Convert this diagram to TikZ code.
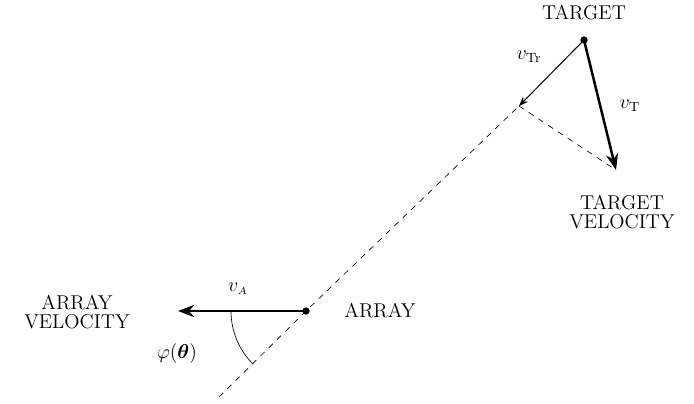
\documentclass[tikz,border=0pt]{standalone}
\usepackage{amsmath,amssymb}
\usepackage{tikz}
\usetikzlibrary{arrows.meta,calc,angles,quotes}

\begin{document}
\begin{tikzpicture}[>=Stealth,x=0.6pt,y=-0.6pt,font=\large]
  \useasboundingbox (0,0) rectangle (694,403);
  \coordinate (target) at (584,40);
  \coordinate (tgtvel) at (616,170);
  \coordinate (radial) at (519,106);
  \coordinate (array) at (306,311);
  \coordinate (arrvel) at (178,311);
  \coordinate (losend) at (219,397);
  \draw[dash pattern=on 3.5pt off 3.5pt] (losend)--(array)--(radial);
  \draw[dash pattern=on 3.5pt off 3.5pt] (radial)--(tgtvel);
  \draw[->,semithick] (target)--(radial);
  \draw[->,line width=1.5pt] (target)--(tgtvel);
  \draw[->,line width=1.5pt] (array)--(arrvel);
  \pic[draw,angle radius=45pt] {angle=arrvel--array--losend};
  \fill (target) circle (2.2pt);
  \fill (array) circle (2.2pt);
  \node (tgtlbl) at (584,13) {TARGET};
  \node[align=center] (tvlbl) at (622,212) {TARGET\\[-3pt]VELOCITY};
  \node (vtr) at (529,57) {$v_{\mathrm{Tr}}$};
  \node (vt) at (630,106) {$v_{\mathrm{T}}$};
  \node (arrlbl) at (380,311) {ARRAY};
  \node[align=center] (avlbl) at (77,312) {ARRAY\\[-3pt]VELOCITY};
  \node (va) at (238,289) {$v_{\scriptscriptstyle A}$};
  \node (phi) at (177,353) {$\varphi(\boldsymbol{\theta})$};
\end{tikzpicture}
\end{document}
